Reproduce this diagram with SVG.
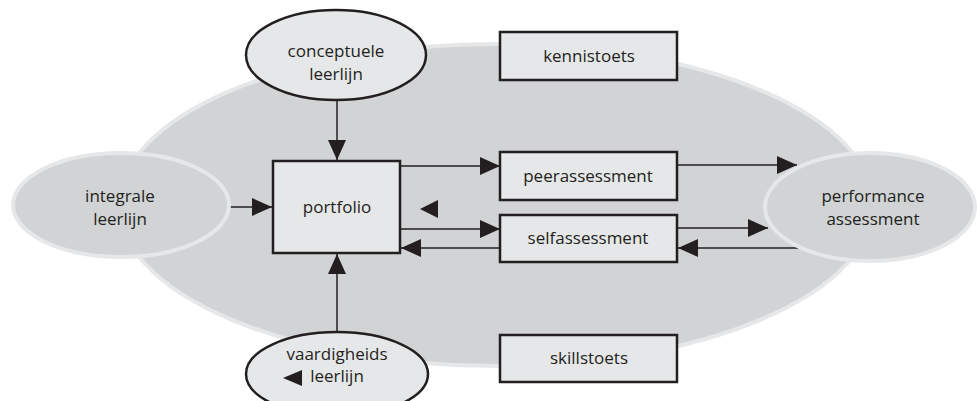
<svg xmlns="http://www.w3.org/2000/svg" width="977" height="401" viewBox="0 0 977 401">
<style>
text{font-family:"Open Sans","Liberation Sans",sans-serif;font-size:17px;fill:#231f20;text-anchor:middle}
.box{fill:#e6e7e8;stroke:#231f20;stroke-width:2.5}
.oval{fill:#e6e7e8;stroke:#231f20;stroke-width:2.5}
.goval{fill:#d1d3d4;stroke:#e6e7e8;stroke-width:4}
.ln{stroke:#231f20;stroke-width:1.5;fill:none}
.ah{fill:#231f20}
</style>
<defs>
<marker id="arr" viewBox="0 0 20 18" refX="20" refY="9" markerWidth="20" markerHeight="18" markerUnits="userSpaceOnUse" orient="auto">
<path d="M0,0 L20,9 L0,18 Z" fill="#231f20"/>
</marker>
</defs>
<rect width="977" height="401" fill="#ffffff"/>
<g id="background">
<ellipse cx="496" cy="205" rx="377" ry="161" class="goval" stroke-width="5"/>
</g>
<g id="connectors">
<line class="ln" x1="337" y1="100" x2="337" y2="160" marker-end="url(#arr)"/>
<line class="ln" x1="337" y1="332" x2="337" y2="254" marker-end="url(#arr)"/>
<line class="ln" x1="230" y1="207" x2="272" y2="207" marker-end="url(#arr)"/>
<line class="ln" x1="401" y1="166" x2="500" y2="166" marker-end="url(#arr)"/>
<line class="ln" x1="401" y1="229" x2="500" y2="229" marker-end="url(#arr)"/>
<line class="ln" x1="500" y1="248" x2="401" y2="248" marker-end="url(#arr)"/>
<line class="ln" x1="677" y1="165" x2="797" y2="165" marker-end="url(#arr)"/>
<line class="ln" x1="677" y1="228" x2="768" y2="228" marker-end="url(#arr)"/>
<line class="ln" x1="798" y1="248" x2="678" y2="248" marker-end="url(#arr)"/>
<path class="ah" d="M420,209 L438,200 L438,218 Z"/>
</g>
<g id="integrale">
<ellipse class="goval" cx="121" cy="205" rx="108" ry="52"/>
<text x="120" y="202">integrale</text>
<text x="120" y="225">leerlijn</text>
</g>
<g id="performance">
<ellipse class="goval" cx="870" cy="207" rx="105" ry="54"/>
<text x="873" y="202">performance</text>
<text x="873" y="225">assessment</text>
</g>
<g id="conceptuele">
<ellipse class="oval" cx="336" cy="55" rx="90" ry="45"/>
<text x="336" y="57">conceptuele</text>
<text x="336" y="80">leerlijn</text>
</g>
<g id="vaardigheids">
<ellipse class="oval" cx="337" cy="374" rx="91" ry="42"/>
<text x="337" y="360">vaardigheids</text>
<text x="337" y="382">leerlijn</text>
<path class="ah" d="M283,378 L302,370 L302,386 Z"/>
</g>
<g id="portfolio">
<rect class="box" x="273" y="161" width="127" height="92"/>
<text x="337" y="213">portfolio</text>
</g>
<g id="kennistoets">
<rect class="box" x="500" y="32" width="177" height="48"/>
<text x="589" y="62">kennistoets</text>
</g>
<g id="peerassessment">
<rect class="box" x="500" y="152" width="177" height="48"/>
<text x="588" y="182">peerassessment</text>
</g>
<g id="selfassessment">
<rect class="box" x="500" y="215" width="177" height="47"/>
<text x="588" y="244">selfassessment</text>
</g>
<g id="skillstoets">
<rect class="box" x="500" y="335" width="177" height="47"/>
<text x="589" y="364">skillstoets</text>
</g>
</svg>
